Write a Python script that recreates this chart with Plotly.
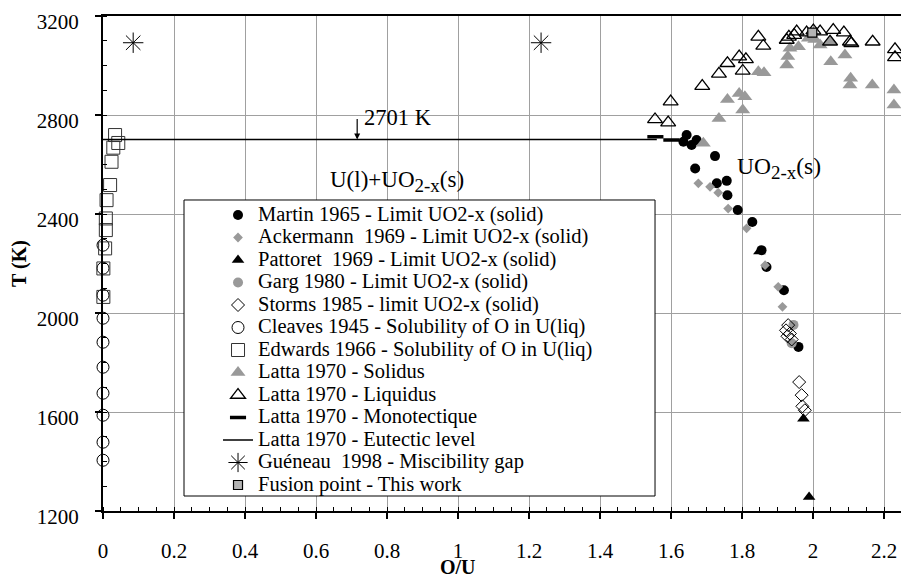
import plotly.graph_objects as go

# ---------------- data ----------------
martin_x = [1.644, 1.635, 1.672, 1.658, 1.724, 1.668, 1.757, 1.729, 1.759, 1.788, 1.829, 1.855, 1.869, 1.918, 1.959]
martin_T = [2719, 2692, 2699, 2679, 2634, 2584, 2534, 2524, 2476, 2416, 2368, 2254, 2186, 2092, 1863]

ackermann_x = [1.677, 1.710, 1.733, 1.761, 1.813, 1.865, 1.902, 1.914]
ackermann_T = [2524, 2510, 2486, 2422, 2342, 2193, 2106, 2025]

pattoret_x = [1.849, 1.973, 1.989]
pattoret_T = [2248, 1573, 1257]

garg_x = [1.945, 1.940]
garg_T = [1952, 1878]

storms_x = [1.930, 1.924, 1.935, 1.928, 1.940, 1.961, 1.968, 1.970, 1.977]
storms_T = [1951, 1930, 1917, 1906, 1893, 1721, 1668, 1623, 1607]

cleaves_x = [0, 0, 0, 0, 0, 0, 0, 0, 0, 0]
cleaves_T = [2274, 2181, 2072, 1979, 1882, 1781, 1676, 1587, 1478, 1405]

edwards_x = [0.034, 0.043, 0.029, 0.024, 0.020, 0.010, 0.008, 0.008, 0.006, 0.001, 0.001]
edwards_T = [2719, 2687, 2668, 2611, 2517, 2456, 2382, 2335, 2261, 2180, 2065]

solidus_x = [1.691, 1.735, 1.759, 1.792, 1.808, 1.802, 1.846, 1.862, 1.926, 1.929, 1.935, 1.959,
             1.987, 2.005, 2.020, 2.050, 2.050, 2.090, 2.106, 2.104, 2.167, 2.228, 2.228]
solidus_T = [2686, 2786, 2863, 2887, 2874, 2820, 2975, 2971, 3002, 3036, 3070, 3076,
             3110, 3105, 3083, 3096, 3015, 3042, 2948, 2921, 2921, 2901, 2840]

liquidus_x = [1.555, 1.592, 1.599, 1.688, 1.735, 1.759, 1.792, 1.811, 1.802, 1.846, 1.860, 1.926, 1.932,
              1.947, 1.954, 1.982, 2.001, 2.020, 2.048, 2.057, 2.087, 2.104, 2.108, 2.168, 2.231, 2.231]
liquidus_T = [2782, 2769, 2854, 2917, 2966, 3009, 3036, 3025, 2978, 3116, 3079, 3103, 3116,
              3123, 3137, 3133, 3141, 3137, 3096, 3143, 3133, 3096, 3090, 3096, 3065, 3033]

monotectique_x = [1.556, 1.601]
monotectique_T = [2712, 2699]

eutectic_x = [0, 1.56]
eutectic_T = [2701, 2701]

gueneau_x = [0.085, 1.234]
gueneau_T = [3092, 3092]

fusion_x = [1.998]
fusion_T = [3133]

x_ticks = [0, 0.2, 0.4, 0.6, 0.8, 1, 1.2, 1.4, 1.6, 1.8, 2, 2.2]
x_ticklabels = ["0", "0.2", "0.4", "0.6", "0.8", "1", "1.2", "1.4", "1.6", "1.8", "2", "2.2"]
y_ticks = [1200, 1600, 2000, 2400, 2800, 3200]
y_ticklabels = ["1200", "1600", "2000", "2400", "2800", "3200"]

names = [
    "Martin 1965 - Limit UO2-x (solid)",
    "Ackermann  1969 - Limit UO2-x (solid)",
    "Pattoret  1969 - Limit UO2-x (solid)",
    "Garg 1980 - Limit UO2-x (solid)",
    "Storms 1985 - limit UO2-x (solid)",
    "Cleaves 1945 - Solubility of O in U(liq)",
    "Edwards 1966 - Solubility of O in U(liq)",
    "Latta 1970 - Solidus",
    "Latta 1970 - Liquidus",
    "Latta 1970 - Monotectique",
    "Latta 1970 - Eutectic level",
    "Guéneau  1998 - Miscibility gap",
    "Fusion point - This work",
]

FONT = "Liberation Serif"
GRAY = "#999999"


def lname(s):
    return '<span style="font-size:20.5px">' + s + '</span>'


fig = go.Figure()


def add_markers(x, y, name, symbol, size, color, line_color, line_width):
    fig.add_trace(go.Scatter(
        x=x, y=y, mode="markers", name=lname(name), cliponaxis=False,
        marker=dict(symbol=symbol, size=size, color=color,
                    line=dict(color=line_color, width=line_width)),
    ))


add_markers(martin_x, martin_T, names[0], "circle", 10, "black", "black", 0)
add_markers(ackermann_x, ackermann_T, names[1], "diamond", 7.5, GRAY, GRAY, 0)
add_markers(pattoret_x, pattoret_T, names[2], "triangle-up", 11, "black", "black", 0)
add_markers(garg_x, garg_T, names[3], "circle", 10, GRAY, GRAY, 0)
add_markers(storms_x, storms_T, names[4], "diamond-open", 10, "black", "black", 1)
add_markers(cleaves_x, cleaves_T, names[5], "circle-open", 12, "black", "black", 1)
add_markers(edwards_x, edwards_T, names[6], "square-open", 13, "#333333", "#333333", 1)
add_markers(solidus_x, solidus_T, names[7], "triangle-up", 13, GRAY, GRAY, 0)
add_markers(liquidus_x, liquidus_T, names[8], "triangle-up-open", 13, "black", "black", 1.3)
add_markers(monotectique_x, monotectique_T, names[9], "line-ew", 11.5, "black", "black", 3.5)

fig.add_trace(go.Scatter(
    x=eutectic_x, y=eutectic_T, mode="lines", name=lname(names[10]), cliponaxis=False,
    line=dict(color="black", width=1.3),
))

add_markers(gueneau_x, gueneau_T, names[11], "asterisk-open", 17, "black", "black", 1)
add_markers(fusion_x, fusion_T, names[12], "square", 9, "#b4b4b4", "black", 1.2)

axis_common = dict(
    showgrid=True, gridcolor="#a0a0a0", gridwidth=1, automargin=False,
    zeroline=False, showline=True, linecolor="black", linewidth=2,
    ticks="outside", ticklen=6, tickcolor="black", tickwidth=1.5,
    tickfont=dict(family=FONT, size=21, color="black"),
)

fig.update_xaxes(
    range=[0, 2.2704], tickmode="array", tickvals=x_ticks, ticktext=x_ticklabels,
    minor=dict(dtick=0.05, tick0=0, ticks="inside", ticklen=4, tickcolor="black", tickwidth=1.2, showgrid=False),
    mirror=True, ticklabelstandoff=14,
    **axis_common,
)
fig.update_yaxes(
    range=[1200, 3200], tickmode="array", tickvals=y_ticks, ticktext=y_ticklabels,
    minor=dict(dtick=100, tick0=1200, ticks="inside", ticklen=4, tickcolor="black", tickwidth=1.2, showgrid=False),
    ticklabelstandoff=12, ticklabelshift=6,
    title=dict(text="<b>T (K)</b>", font=dict(family=FONT, size=20, color="black"), standoff=10),
    **axis_common,
)

# legend frame (white box hiding the grid)
fig.add_shape(type="rect", xref="paper", yref="paper", x0=0.1005, x1=0.6849, y0=0.0303, y1=0.6283,
              line=dict(color="black", width=1), fillcolor="white", layer="above")

SUB = "<sub><span style='font-size:19px'>2-x</span></sub>"

# the page body has an 8px default margin: margins below compensate for it
fig.update_layout(
    width=909, height=576,
    margin=dict(l=95, r=8, t=8, b=73),
    paper_bgcolor="white", plot_bgcolor="white",
    font=dict(family=FONT, color="black"),
    showlegend=True,
    legend=dict(
        x=0.1427, y=0.6308, xanchor="left", yanchor="top",
        bgcolor="rgba(0,0,0,0)", borderwidth=0,
        font=dict(family=FONT, size=15, color="black"),
        tracegroupgap=0,
    ),
    annotations=[
        dict(x=0.716, y=2701, ax=0.716, ay=2790, xref="x", yref="y", axref="x", ayref="y",
             text="", showarrow=True, arrowhead=2, arrowsize=1, arrowwidth=1.2, arrowcolor="black", standoff=0),
        dict(x=0.73, y=2790, xref="x", yref="y", text="2701 K", showarrow=False,
             xanchor="left", yanchor="middle", font=dict(family=FONT, size=22.5, color="black")),
        dict(x=0.634, y=2530, xref="x", yref="y", text="U(l)+UO" + SUB + "(s)", showarrow=False,
             xanchor="left", yanchor="middle", font=dict(family=FONT, size=23, color="black")),
        dict(x=1.78, y=2585, xref="x", yref="y", text="UO" + SUB + "(s)", showarrow=False,
             xanchor="left", yanchor="middle", font=dict(family=FONT, size=23.5, color="black")),
        dict(x=1.0, y=-0.113, xref="x", yref="paper", text="<b>O/U</b>", showarrow=False,
             xanchor="center", yanchor="middle", font=dict(family=FONT, size=20, color="black")),
    ],
)

fig.write_html("out.html")
